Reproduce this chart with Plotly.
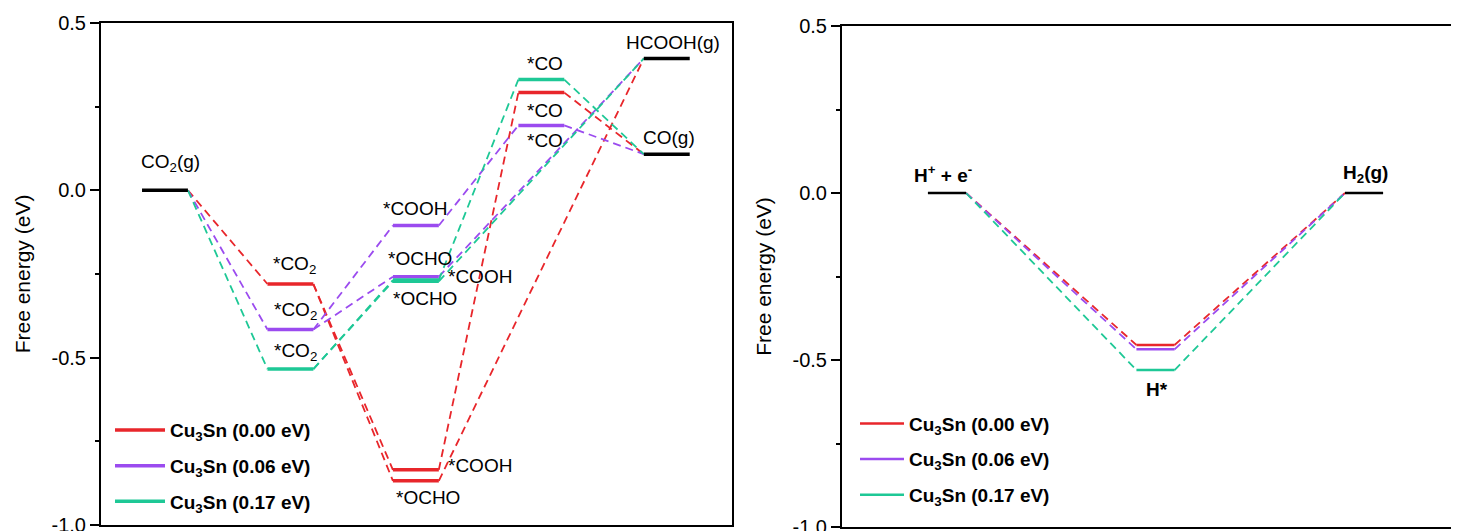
import plotly.graph_objects as go

# ---------------- data ----------------
series_names = ["Cu<sub>3</sub>Sn (0.00 eV)", "Cu<sub>3</sub>Sn (0.06 eV)", "Cu<sub>3</sub>Sn (0.17 eV)"]
series_colors = ["#E8262B", "#9B4BEF", "#1EC896"]

# CO2 reduction pathway (left panel), one value per series
co2_gas = 0.0
co2_ads = [-0.280, -0.416, -0.534]
cooh_ads = [-0.835, -0.105, -0.268]
ocho_ads = [-0.868, -0.258, -0.272]
co_ads = [0.292, 0.194, 0.331]
hcooh_gas = 0.394
co_gas = 0.108

# HER pathway (right panel)
h_start = 0.0
h_ads = [-0.455, -0.468, -0.530]
h2_gas = 0.0

y_tick_vals = [-1.0, -0.5, 0.0, 0.5]
y_tick_text = ["-1.0", "-0.5", "0.0", "0.5"]
y_minor_vals = [-0.75, -0.25, 0.25]

FONT = "Liberation Sans, Arial, sans-serif"
W, H = 1459, 531
OFF = 8  # page body margin offset

# level geometry (in axis units)
L0, L1 = 0.327, 0.693      # left panel level start/end offsets within a column
R0, R1 = 0.412, 0.595      # right panel


def lvl(col, y, a, b):
    return [col + a, col + b, None], [y, y, None]


def conn(c1, y1, c2, y2, a, b):
    return [c1 + b, c2 + a, None], [y1, y2, None]


fig = go.Figure()

# ---------- left panel ----------
for i in range(3):
    segs = [conn(0, co2_gas, 1, co2_ads[i], L0, L1),
            conn(1, co2_ads[i], 2, cooh_ads[i], L0, L1),
            conn(1, co2_ads[i], 2, ocho_ads[i], L0, L1),
            conn(2, cooh_ads[i], 3, co_ads[i], L0, L1),
            conn(2, ocho_ads[i], 4, hcooh_gas, L0, L1),
            conn(3, co_ads[i], 4, co_gas, L0, L1)]
    xs, ys = [], []
    for sx, sy in segs:
        xs += sx
        ys += sy
    fig.add_trace(go.Scatter(x=xs, y=ys, mode="lines", showlegend=False, hoverinfo="skip",
                             line=dict(color=series_colors[i], width=1.8, dash="8px,5px"),
                             xaxis="x", yaxis="y"))

for i in range(3):
    segs = [lvl(1, co2_ads[i], L0, L1), lvl(2, cooh_ads[i], L0, L1),
            lvl(2, ocho_ads[i], L0, L1), lvl(3, co_ads[i], L0, L1)]
    xs, ys = [], []
    for sx, sy in segs:
        xs += sx
        ys += sy
    fig.add_trace(go.Scatter(x=xs, y=ys, mode="lines", name=series_names[i],
                             legend="legend", legendgroup="L%d" % i,
                             line=dict(color=series_colors[i], width=3.5),
                             xaxis="x", yaxis="y"))

xs, ys = [], []
for sx, sy in [lvl(0, co2_gas, L0, L1), lvl(4, hcooh_gas, L0, L1), lvl(4, co_gas, L0, L1)]:
    xs += sx
    ys += sy
fig.add_trace(go.Scatter(x=xs, y=ys, mode="lines", showlegend=False, hoverinfo="skip",
                         line=dict(color="black", width=3.5), xaxis="x", yaxis="y"))

# ---------- right panel ----------
for i in range(3):
    xs, ys = [], []
    for sx, sy in [conn(0, h_start, 1, h_ads[i], R0, R1), conn(1, h_ads[i], 2, h2_gas, R0, R1)]:
        xs += sx
        ys += sy
    fig.add_trace(go.Scatter(x=xs, y=ys, mode="lines", showlegend=False, hoverinfo="skip",
                             line=dict(color=series_colors[i], width=1.8, dash="8px,5px"),
                             xaxis="x2", yaxis="y2"))
for i in range(3):
    sx, sy = lvl(1, h_ads[i], R0, R1)
    fig.add_trace(go.Scatter(x=sx, y=sy, mode="lines", name=series_names[i],
                             legend="legend2", legendgroup="R%d" % i,
                             line=dict(color=series_colors[i], width=2.5),
                             xaxis="x2", yaxis="y2"))
xs, ys = [], []
for sx, sy in [lvl(0, h_start, R0, R1), lvl(2, h2_gas, R0, R1)]:
    xs += sx
    ys += sy
fig.add_trace(go.Scatter(x=xs, y=ys, mode="lines", showlegend=False, hoverinfo="skip",
                         line=dict(color="black", width=2.5), xaxis="x2", yaxis="y2"))

# ---------- annotations ----------
lab_font = dict(family=FONT, size=19, color="black")
bold_font = dict(family=FONT, size=19, color="black", weight="bold")
left_labels = [
    ("CO<sub>2</sub>(g)", 0.311, 0.082),
    ("*CO<sub>2</sub>", 1.363, -0.222),
    ("*CO<sub>2</sub>", 1.371, -0.360),
    ("*CO<sub>2</sub>", 1.371, -0.482),
    ("*COOH", 2.239, -0.054),
    ("*OCHO", 2.279, -0.203),
    ("*COOH", 2.757, -0.257),
    ("*OCHO", 2.319, -0.323),
    ("*COOH", 2.757, -0.822),
    ("*OCHO", 2.343, -0.917),
    ("*CO", 3.386, 0.379),
    ("*CO", 3.386, 0.239),
    ("*CO", 3.386, 0.149),
    ("HCOOH(g)", 4.175, 0.442),
    ("CO(g)", 4.311, 0.158),
]
anns = []
for t, x, y in left_labels:
    anns.append(dict(text=t, x=x, y=y, xref="x", yref="y", xanchor="left", yanchor="middle",
                     showarrow=False, font=lab_font, borderpad=0))
right_labels = [
    ("H<sup>+</sup> + e<sup>-</sup>", 0.341, 0.056),
    ("H<sub>2</sub>(g)", 2.398, 0.057),
    ("H*", 1.453, -0.589),
]
for t, x, y in right_labels:
    anns.append(dict(text=t, x=x, y=y, xref="x2", yref="y2", xanchor="left", yanchor="middle",
                     showarrow=False, font=bold_font, borderpad=0))

axis_common = dict(showgrid=False, zeroline=False, showline=True, linecolor="black", linewidth=2)
yaxis_common = dict(axis_common, range=[-1.0, 0.5], tickmode="array", tickvals=y_tick_vals,
                    ticktext=y_tick_text, ticks="outside", ticklen=9, tickwidth=2, tickcolor="black",
                    minor=dict(tickmode="array", tickvals=y_minor_vals, ticks="outside", ticklen=4,
                               tickwidth=2, tickcolor="black"),
                    tickfont=dict(family=FONT, size=20, color="black"), automargin=False,
                    title=dict(text="Free energy (eV)", font=dict(family=FONT, size=21, color="black"),
                               standoff=15))

legend_common = dict(xanchor="left", yanchor="top", bgcolor="rgba(0,0,0,0)", tracegroupgap=8,
                     font=dict(family=FONT, size=19, color="black", weight="bold"))

MT, MB = 15, 12
PH = H - MT - MB  # plot-area height in px

fig.update_layout(
    width=W, height=H, margin=dict(l=0, r=0, t=MT, b=MB),
    plot_bgcolor="white", paper_bgcolor="white",
    xaxis=dict(axis_common, domain=[(101 - OFF) / W, (732 - OFF) / W], range=[0, 5.03], mirror=True,
               showticklabels=False, ticks="", anchor="y"),
    yaxis=dict(yaxis_common, domain=[2 / PH, 1], mirror=True, anchor="x"),
    xaxis2=dict(axis_common, domain=[(842 - OFF) / W, (1459 - OFF) / W], range=[0, 2.959], mirror=True,
                showticklabels=False, ticks="", anchor="y2"),
    yaxis2=dict(yaxis_common, domain=[0, 1 - 3 / PH], mirror=False, anchor="x2"),
    legend=dict(legend_common, x=102 / W, y=0.230, itemwidth=50),
    legend2=dict(legend_common, x=847 / W, y=0.243, itemwidth=44),
    annotations=anns,
    showlegend=True,
)

fig.write_html("out.html")
